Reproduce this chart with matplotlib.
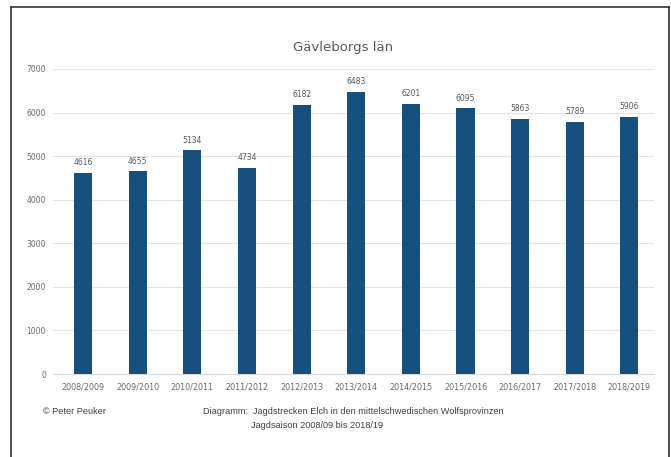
import matplotlib
matplotlib.use("Agg")
import matplotlib.pyplot as plt
from matplotlib.lines import Line2D

seasons = ["2008/2009", "2009/2010", "2010/2011", "2011/2012", "2012/2013",
           "2013/2014", "2014/2015", "2015/2016", "2016/2017", "2017/2018",
           "2018/2019"]
harvest = [4616, 4655, 5134, 4734, 6182, 6483, 6201, 6095, 5863, 5789, 5906]
y_ticks = [0, 1000, 2000, 3000, 4000, 5000, 6000, 7000]

W, H = 671, 457
fig = plt.figure(figsize=(W / 100, H / 100), dpi=100)
fig.patch.set_facecolor("white")

ax = fig.add_axes([53 / W, 1 - 374 / H, (654 - 53) / W, (374 - 69) / H])
x = range(len(seasons))
bar_color = "#17507f"
ax.bar(x, harvest, width=0.33, color=bar_color, zorder=3)
for xi, v in zip(x, harvest):
    ax.annotate(str(v), (xi, v), xytext=(0, 4), textcoords="offset points",
                ha="center", va="bottom", fontsize=5.5, color="#595959")

ax.set_xlim(-0.55, len(seasons) - 0.55)
ax.set_ylim(0, 7000)
ax.set_yticks(y_ticks)
ax.set_yticklabels([str(t) for t in y_ticks], fontsize=5.5, color="#6b6b6b")
ax.set_xticks(list(x))
ax.set_xticklabels(seasons, fontsize=5.8, color="#6b6b6b")
ax.tick_params(length=0, pad=5, axis="y")
ax.tick_params(length=0, pad=6, axis="x")
ax.grid(axis="y", color="#e3e3e3", linewidth=0.8, zorder=0)
for s in ["top", "right", "left"]:
    ax.spines[s].set_visible(False)
ax.spines["bottom"].set_color("#d9d9d9")

fig.text(343 / W, 1 - 48 / H, "Gävleborgs län", ha="center", va="center",
         fontsize=9.5, color="#595959")

foot = dict(ha="left", va="center", fontsize=6.6, color="#404040",
            family="Liberation Sans")
fig.text(43 / W, 1 - 411 / H, "© Peter Peuker", **foot)
fig.text(203 / W, 1 - 411 / H,
         "Diagramm:  Jagdstrecken Elch in den mittelschwedischen Wolfsprovinzen",
         **foot)
fig.text(251 / W, 1 - 425 / H, "Jagdsaison 2008/09 bis 2018/19", **foot)

# page frame
frame_kw = dict(color="#333333", linewidth=1.2, transform=fig.transFigure)
fig.add_artist(Line2D([11 / W, 669 / W], [1 - 6.5 / H, 1 - 6.5 / H], **frame_kw))
fig.add_artist(Line2D([11 / W, 11 / W], [1 - 6.5 / H, 0], **frame_kw))
fig.add_artist(Line2D([669 / W, 669 / W], [1 - 6.5 / H, 0], **frame_kw))

fig.savefig("out.png", dpi=100, facecolor="white")
